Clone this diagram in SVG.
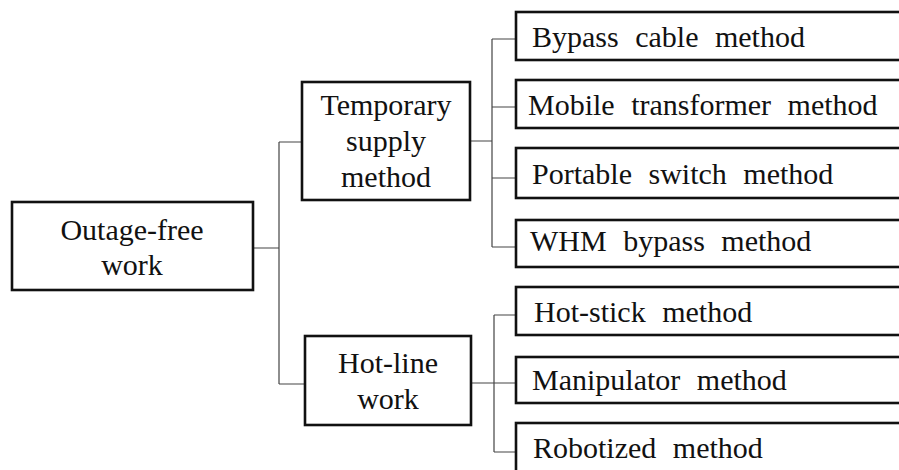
<svg xmlns="http://www.w3.org/2000/svg" width="899" height="470" viewBox="0 0 899 470">
<style>
.box{fill:#fff;stroke:#111;stroke-width:2.6}
.lbl{font-family:"Liberation Serif","Times New Roman",serif;font-size:30px;fill:#111;word-spacing:9px}
.c{text-anchor:middle}
.con{fill:none;stroke:#444;stroke-width:1.2}
</style>
<rect width="899" height="470" fill="#fff"/>
<g id="connectors" class="con">
<path d="M253,248 H279 M279,142 V384 M279,142 H302 M279,384 H305"/>
<path d="M470,141 H492 M492,39 V247 M492,39 H516 M492,107 H516 M492,178 H516 M492,247 H516"/>
<path d="M471,383 H516 M494,315 V452 M494,315 H516 M494,452 H516"/>
</g>
<g id="outage-free">
<rect class="box" x="12" y="202" width="241" height="88"/>
<text class="lbl c" x="132" y="240">Outage-free</text>
<text class="lbl c" x="132" y="275">work</text>
</g>
<g id="temporary-supply">
<rect class="box" x="302" y="82" width="168" height="118"/>
<text class="lbl c" x="386" y="115">Temporary</text>
<text class="lbl c" x="386" y="151">supply</text>
<text class="lbl c" x="386" y="187">method</text>
</g>
<g id="hot-line">
<rect class="box" x="305" y="336" width="166" height="89"/>
<text class="lbl c" x="388" y="373">Hot-line</text>
<text class="lbl c" x="388" y="409">work</text>
</g>
<g id="bypass-cable">
<rect class="box" x="516" y="12" width="400" height="48"/>
<text class="lbl" x="532" y="47">Bypass cable method</text>
</g>
<g id="mobile-transformer">
<rect class="box" x="516" y="80" width="400" height="48"/>
<text class="lbl" x="528" y="115">Mobile transformer method</text>
</g>
<g id="portable-switch">
<rect class="box" x="516" y="148" width="400" height="50"/>
<text class="lbl" x="532" y="184">Portable switch method</text>
</g>
<g id="whm-bypass">
<rect class="box" x="516" y="220" width="400" height="47"/>
<text class="lbl" x="530" y="251">WHM bypass method</text>
</g>
<g id="hot-stick">
<rect class="box" x="516" y="287" width="400" height="48"/>
<text class="lbl" x="534" y="322">Hot-stick method</text>
</g>
<g id="manipulator">
<rect class="box" x="516" y="357" width="400" height="46"/>
<text class="lbl" x="532" y="390">Manipulator method</text>
</g>
<g id="robotized">
<rect class="box" x="516" y="423" width="400" height="60"/>
<text class="lbl" x="533" y="458">Robotized method</text>
</g>
</svg>
